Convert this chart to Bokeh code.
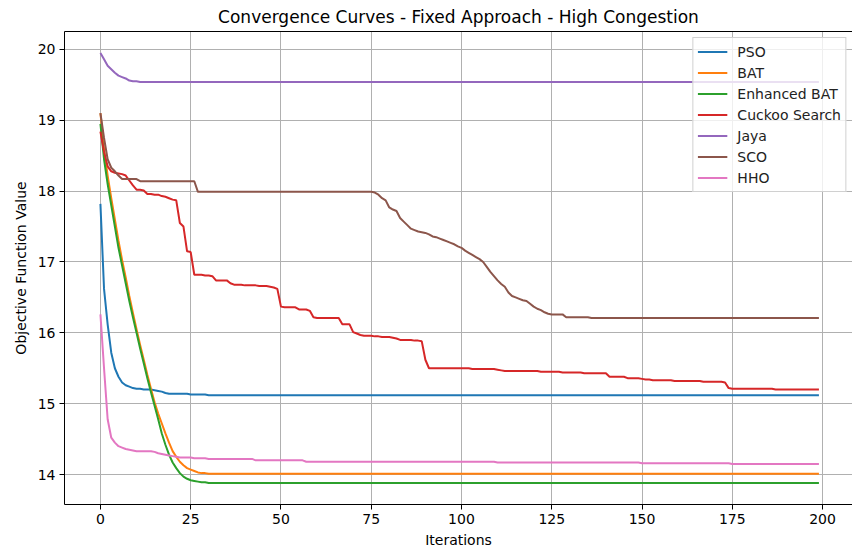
from bokeh.plotting import figure
from bokeh.models import Range1d, LinearAxis, FixedTicker, Legend
from bokeh.embed import file_html
from bokeh.resources import INLINE

# ---- data ----
iterations = list(range(200))

pso = ([17.82, 16.62, 16.12, 15.72, 15.50, 15.38, 15.30, 15.26, 15.24, 15.22,
        15.21, 15.21, 15.20, 15.20, 15.20, 15.19, 15.18, 15.17, 15.15, 15.14]
       + [15.14] * 5 + [15.13] * 5 + [15.12] * 170)

bat = ([19.10, 18.60, 18.22, 17.90, 17.60, 17.30, 17.03, 16.78, 16.52, 16.28,
        16.05, 15.83, 15.62, 15.41, 15.21, 15.02, 14.86, 14.72, 14.58, 14.45,
        14.33, 14.25, 14.18, 14.13, 14.09, 14.07, 14.05, 14.03, 14.02, 14.02]
       + [14.01] * 170)

enhanced_bat = ([18.95, 18.45, 18.10, 17.80, 17.50, 17.20, 16.95, 16.70, 16.45, 16.22,
                 16.00, 15.78, 15.57, 15.36, 15.16, 14.97, 14.78, 14.58, 14.42, 14.28,
                 14.17, 14.09, 14.02, 13.97, 13.94, 13.92, 13.91, 13.90, 13.89, 13.89]
                + [13.88] * 170)

cuckoo = ([18.84, 18.55, 18.35, 18.28, 18.26, 18.25, 18.24, 18.22, 18.15, 18.08,
           18.02, 18.02, 18.01, 17.96, 17.96, 17.95, 17.95, 17.93, 17.92, 17.90,
           17.88, 17.87]
          + [17.55, 17.50, 17.15, 17.14, 16.82]
          + [16.82, 16.82, 16.81, 16.81, 16.80]
          + [16.74] * 4
          + [16.70, 16.68, 16.68, 16.68, 16.67, 16.67, 16.67, 16.67, 16.66, 16.66]
          + [16.66, 16.65, 16.64, 16.62]
          + [16.37, 16.36, 16.36, 16.36, 16.36]
          + [16.33, 16.33, 16.33, 16.31]
          + [16.22, 16.21, 16.21, 16.21, 16.21, 16.21, 16.21, 16.21]
          + [16.12, 16.12, 16.12]
          + [16.01, 15.99, 15.97, 15.96, 15.96, 15.96]
          + [15.95, 15.95, 15.94, 15.94, 15.94, 15.93, 15.92]
          + [15.90, 15.90, 15.90, 15.90, 15.89, 15.89, 15.88]
          + [15.62, 15.50]
          + [15.50] * 11
          + [15.49] * 7 + [15.48, 15.47]
          + [15.46] * 10
          + [15.45] * 6 + [15.44] * 6
          + [15.43] * 7
          + [15.38] * 5
          + [15.36] * 4
          + [15.35, 15.34, 15.34]
          + [15.33] * 6
          + [15.32] * 8 + [15.31] * 6 + [15.30]
          + [15.22] + [15.21] * 12 + [15.20] * 13)

jaya = ([19.95, 19.86, 19.77, 19.72, 19.67, 19.63, 19.61, 19.59, 19.56, 19.55, 19.55]
        + [19.54] * 189)

sco = ([19.10, 18.75, 18.45, 18.33, 18.28, 18.22, 18.17, 18.17, 18.17, 18.17, 18.17]
       + [18.14] * 16
       + [17.99] * 49
       + [17.98, 17.95, 17.90, 17.87, 17.77, 17.74, 17.72, 17.62, 17.57, 17.52,
          17.47, 17.45, 17.43, 17.42, 17.41, 17.39, 17.36, 17.35, 17.33, 17.31,
          17.29, 17.27, 17.25, 17.22, 17.20, 17.16, 17.13, 17.10, 17.07, 17.04, 17.00]
       + [16.93, 16.86, 16.80, 16.74, 16.69, 16.65, 16.57, 16.52, 16.50, 16.48,
          16.46, 16.45, 16.41, 16.37, 16.34, 16.32, 16.29, 16.27, 16.26, 16.26,
          16.26, 16.26, 16.22]
       + [16.22] * 6
       + [16.21] * 64)

hho = ([16.26, 15.50, 14.78, 14.52, 14.45, 14.40, 14.38, 14.36, 14.35, 14.34,
        14.33, 14.33, 14.33, 14.33, 14.33, 14.32, 14.30, 14.29, 14.28, 14.27,
        14.26, 14.25]
       + [14.24] * 4 + [14.23] * 4
       + [14.22] * 13
       + [14.20] * 14
       + [14.18] * 53
       + [14.17] * 40
       + [14.16] * 25
       + [14.15] * 25)

series_names = ["PSO", "BAT", "Enhanced BAT", "Cuckoo Search", "Jaya", "SCO", "HHO"]
series_values = [pso, bat, enhanced_bat, cuckoo, jaya, sco, hho]
series_colors = ["#1f77b4", "#ff7f0e", "#2ca02c", "#d62728", "#9467bd", "#8c564b", "#e377c2"]

x_ticks = [0, 25, 50, 75, 100, 125, 150, 175, 200]
y_ticks = [14, 15, 16, 17, 18, 19, 20]

FONT = "DejaVu Sans"

p = figure(width=852, height=550, output_backend="svg", toolbar_location=None,
           x_range=Range1d(-9.95, 208.3), y_range=Range1d(13.577, 20.253),
           x_axis_location=None, y_axis_location=None,
           min_border_left=64, min_border_right=0, min_border_top=10, min_border_bottom=45)

p.title.text = "Convergence Curves - Fixed Approach - High Congestion"
p.title.align = "center"
p.title.text_font = FONT
p.title.text_font_size = "17px"
p.title.text_font_style = "normal"
p.title.text_color = "black"
p.title.offset = 0
p.title.standoff = 9

p.outline_line_color = None
p.background_fill_color = "white"
p.border_fill_color = "white"

# top spine (no ticks, no labels)
top_axis = LinearAxis(ticker=FixedTicker(ticks=[]), major_label_text_alpha=0,
                      major_tick_out=0, major_tick_in=0, minor_tick_out=0, minor_tick_in=0,
                      axis_line_color="black", axis_line_width=1)
p.add_layout(top_axis, "above")

x_axis = LinearAxis(axis_label="Iterations", ticker=FixedTicker(ticks=x_ticks))
y_axis = LinearAxis(axis_label="Objective Function Value", ticker=FixedTicker(ticks=y_ticks))
for ax in (x_axis, y_axis):
    ax.axis_line_color = "black"
    ax.axis_line_width = 1
    ax.major_tick_line_color = "black"
    ax.major_tick_out = 5
    ax.major_tick_in = 0
    ax.minor_tick_out = 0
    ax.minor_tick_in = 0
    ax.major_label_text_font = FONT
    ax.major_label_text_font_size = "14px"
    ax.major_label_text_color = "black"
    ax.major_label_standoff = 4
    ax.axis_label_text_font = FONT
    ax.axis_label_text_font_size = "14px"
    ax.axis_label_text_font_style = "normal"
    ax.axis_label_text_color = "black"
x_axis.axis_label_standoff = 5
y_axis.axis_label_standoff = 6
p.add_layout(x_axis, "below")
p.add_layout(y_axis, "left")

p.xgrid.ticker = FixedTicker(ticks=x_ticks)
p.ygrid.ticker = FixedTicker(ticks=y_ticks)
for g in (p.xgrid[0], p.ygrid[0]):
    g.grid_line_color = "#b0b0b0"
    g.grid_line_width = 1

items = []
for name, vals, col in zip(series_names, series_values, series_colors):
    r = p.line(iterations, vals, line_color=col, line_width=2)
    items.append((name, [r]))

legend = Legend(items=items, location="top_right")
legend.margin = 6
legend.padding = 4
legend.spacing = 2
legend.label_height = 19
legend.glyph_height = 19
legend.glyph_width = 30
legend.label_standoff = 10
legend.label_text_font = FONT
legend.label_text_font_size = "14px"
legend.label_text_color = "#222222"
legend.border_line_color = "#cccccc"
legend.border_line_alpha = 0.9
legend.background_fill_alpha = 0.8
p.add_layout(legend, "center")

open("out.html", "w").write(file_html(p, INLINE))
